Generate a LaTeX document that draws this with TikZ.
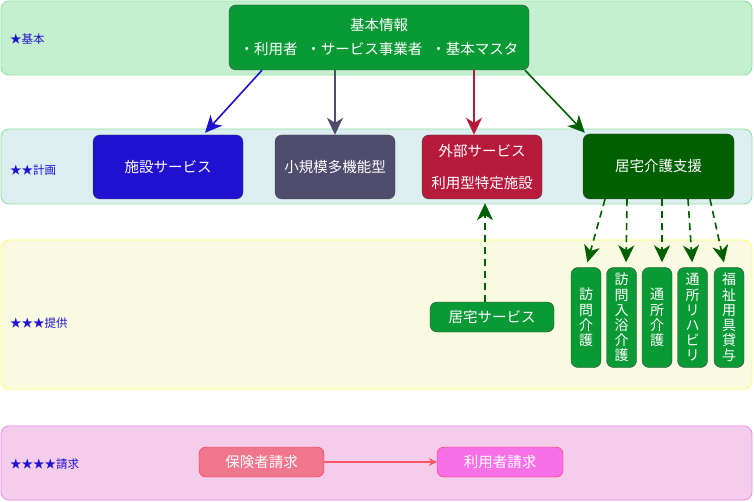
\documentclass[tikz,border=0pt]{standalone}
\usepackage{fontspec}
\setmainfont{Noto Sans CJK JP}
\usetikzlibrary{arrows.meta}

\definecolor{kihonGreen}{RGB}{10,154,53}
\definecolor{shienGreen}{RGB}{0,96,0}
\definecolor{shisetsuBlue}{RGB}{32,16,208}
\definecolor{shokiboGrey}{RGB}{79,76,110}
\definecolor{gaibuRed}{RGB}{184,26,60}
\definecolor{hokenPink}{RGB}{240,118,142}
\definecolor{riyoPink}{RGB}{248,112,232}
\definecolor{seikyuRed}{RGB}{255,40,60}
\definecolor{labelBlue}{RGB}{32,16,208}
\definecolor{laneKihon}{RGB}{197,240,208}
\definecolor{laneKeikaku}{RGB}{220,238,240}
\definecolor{laneTeikyo}{RGB}{248,250,226}
\definecolor{laneSeikyu}{RGB}{244,204,236}
\definecolor{edgeGreen}{RGB}{144,224,160}
\definecolor{edgeYellow}{RGB}{255,255,110}
\definecolor{edgePink}{RGB}{240,140,232}

\tikzset{
  lane/.style={draw=#1, line width=0.9pt, rounded corners=8pt},
  box/.style={draw=black!75, rounded corners=7pt, text=white, inner sep=0pt,
    align=center, font=\fontsize{14.5}{16}\selectfont},
  tatebox/.style={box, fill=kihonGreen, minimum width=30pt, minimum height=100pt,
    font=\fontsize{14}{15.2}\selectfont},
  lanelabel/.style={anchor=west, inner sep=0pt, text=labelBlue,
    font=\fontsize{11.5}{13}\selectfont},
  flow/.style={-{Stealth[length=17pt,width=16pt,inset=5pt]}, line width=1.6pt},
  subflow/.style={flow, draw=shienGreen, dash pattern=on 7pt off 5pt}
}

\begin{document}
\begin{tikzpicture}[x=1pt,y=1pt,yscale=-1]
\useasboundingbox (0,0) rectangle (754,502);

%Lanes
\draw [lane=edgeGreen, fill=laneKihon] (1,1) rectangle (752,75);
\draw [lane=edgeGreen, fill=laneKeikaku] (1,129) rectangle (752,204);
\draw [lane=edgeYellow, fill=laneTeikyo] (1,240) rectangle (752,389);
\draw [lane=edgePink, fill=laneSeikyu] (1,426) rectangle (752,500);

% Lane labels
\node [lanelabel] (lbl1) at (10,39) {★基本};
\node [lanelabel] (lbl2) at (10,170) {★★計画};
\node [lanelabel] (lbl3) at (10,323) {★★★提供};
\node [lanelabel] (lbl4) at (10,464) {★★★★請求};

%Shape: Rounded Rectangle
\node [box, fill=kihonGreen, minimum width=300pt, minimum height=65pt,
  font=\fontsize{14.5}{24}\selectfont] (kihon) at (379,37.5)
  {基本情報\\・利用者\hspace{9pt}・サービス事業者\hspace{9pt}・基本マスタ};
\node [box, fill=shisetsuBlue, minimum width=150pt, minimum height=64pt] (shisetsu) at (168,167) {施設サービス};
\node [box, fill=shokiboGrey, minimum width=120pt, minimum height=64pt] (shokibo) at (335,167) {小規模多機能型};
\node [box, fill=gaibuRed, minimum width=120pt, minimum height=64pt,
  font=\fontsize{14.5}{32}\selectfont] (gaibu) at (482,167) {外部サービス\\利用型特定施設};
\node [box, fill=shienGreen, minimum width=151pt, minimum height=65pt] (shien) at (658.5,166.5) {居宅介護支援};
\node [box, fill=kihonGreen, minimum width=124pt, minimum height=30pt] (kyotaku) at (492,317) {居宅サービス};

% vertical service boxes
\node [tatebox] (homon) at (586,317.5) {訪\\問\\介\\護};
\node [tatebox] (nyuyoku) at (621.5,317.5) {訪\\問\\入\\浴\\介\\護};
\node [tatebox] (tsusho) at (657,317.5) {通\\所\\介\\護};
\node [tatebox] (riha) at (692.5,317.5) {通\\所\\リ\\ハ\\ビ\\リ};
\node [tatebox] (yogu) at (729,317.5) {福\\祉\\用\\具\\貸\\与};

\node [box, draw=seikyuRed, fill=hokenPink, minimum width=125pt, minimum height=30pt] (hoken) at (261.5,462) {保険者請求};
\node [box, draw=seikyuRed, fill=riyoPink, minimum width=126pt, minimum height=30pt] (riyo) at (500,462) {利用者請求};

%Straight Lines
\draw [flow, draw=shisetsuBlue] ([xshift=-117pt]kihon.south) -- ([xshift=37pt,yshift=-2pt]shisetsu.north);
\draw [flow, draw=shokiboGrey] ([xshift=-44pt]kihon.south) -- (shokibo.north);
\draw [flow, draw=gaibuRed] ([xshift=95pt]kihon.south) -- ([xshift=-8pt]gaibu.north);
\draw [flow, draw=shienGreen] ([xshift=146pt]kihon.south) -- ([xshift=2pt,yshift=-1pt]shien.north west);

\draw [subflow] ([xshift=-7pt]kyotaku.north) -- ([xshift=3pt,yshift=4pt]gaibu.south);
\draw [subflow, shorten >=5pt] ([xshift=-53.5pt]shien.south) -- (homon.north);
\draw [subflow, shorten >=5pt] ([xshift=-31.5pt]shien.south) -- ([xshift=4.5pt]nyuyoku.north);
\draw [subflow, shorten >=5pt] ([xshift=3.5pt]shien.south) -- ([xshift=5pt]tsusho.north);
\draw [subflow, shorten >=5pt] ([xshift=29.5pt]shien.south) -- (riha.north);
\draw [subflow, shorten >=5pt] ([xshift=51.5pt]shien.south) -- ([xshift=-4pt]yogu.north);

\draw [-{Stealth[length=8pt,width=8pt]}, draw=seikyuRed!80, line width=1.2pt] (hoken) -- (riyo);

\end{tikzpicture}
\end{document}
